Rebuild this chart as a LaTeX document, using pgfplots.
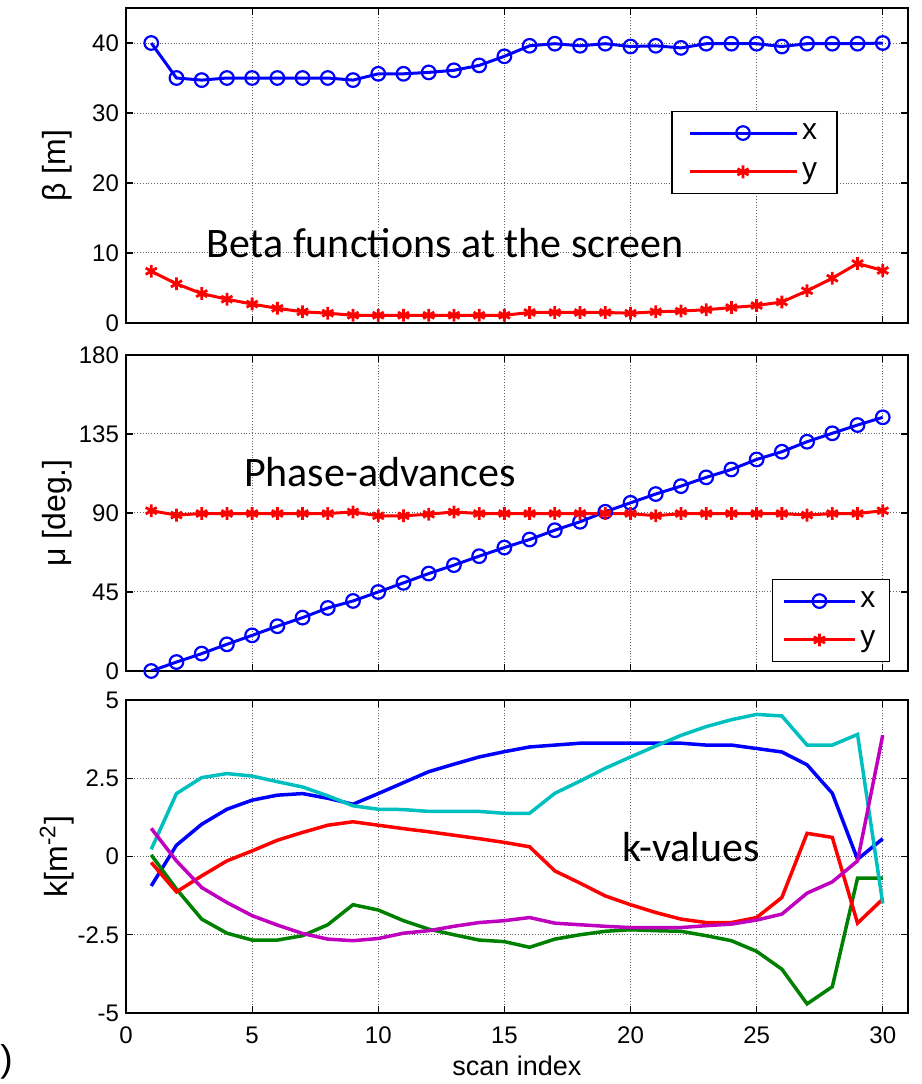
\documentclass[border=0pt]{standalone}
\usepackage{pgfplots}
\pgfplotsset{compat=1.18}
\usepackage{pgfplotstable}
\usepackage{fontspec}
\setmainfont{Liberation Sans}
\newfontfamily\cali{Carlito}
\definecolor{mblue}{RGB}{0,0,255}
\definecolor{mred}{RGB}{255,0,0}
\definecolor{mgreen}{RGB}{0,128,0}
\definecolor{mcyan}{RGB}{0,191,191}
\definecolor{mmag}{RGB}{191,0,191}

% beta functions at the screen
\pgfplotstableread{
i bx by
1 40.0 7.4
2 35.0 5.6
3 34.7 4.2
4 35.0 3.4
5 35.0 2.7
6 35.0 2.1
7 35.0 1.6
8 35.0 1.4
9 34.7 1.1
10 35.6 1.1
11 35.6 1.1
12 35.8 1.1
13 36.1 1.1
14 36.8 1.1
15 38.1 1.1
16 39.6 1.5
17 39.9 1.5
18 39.6 1.5
19 39.9 1.5
20 39.5 1.4
21 39.6 1.6
22 39.3 1.7
23 39.9 1.9
24 39.9 2.2
25 39.9 2.5
26 39.5 3.0
27 39.9 4.6
28 39.9 6.4
29 39.9 8.5
30 40.0 7.5
}\betatab

% phase advances
\pgfplotstableread{
i mx my
1 0.0 91.3
2 5.1 88.8
3 9.9 89.7
4 15.2 89.7
5 20.3 89.7
6 25.5 89.7
7 30.4 89.7
8 35.9 89.7
9 39.9 90.6
10 45.0 88.4
11 50.2 88.4
12 55.5 89.3
13 60.3 90.6
14 65.4 89.7
15 70.3 89.7
16 74.9 89.7
17 80.2 89.7
18 85.0 89.7
19 90.7 89.7
20 95.8 89.7
21 100.8 88.4
22 105.3 89.7
23 110.3 89.7
24 114.8 89.7
25 120.5 89.7
26 124.9 89.7
27 130.6 88.8
28 135.4 89.7
29 140.1 89.7
30 144.5 91.3
}\mutab

% k-values
\pgfplotstableread{
i ka kb kc kd ke
1 -0.94 0.05 -0.19 0.23 0.90
2 0.36 -1.04 -1.13 2.01 -0.14
3 1.03 -2.00 -0.62 2.52 -0.99
4 1.51 -2.45 -0.14 2.65 -1.47
5 1.80 -2.67 0.18 2.57 -1.89
6 1.96 -2.67 0.52 2.39 -2.19
7 2.01 -2.53 0.77 2.22 -2.46
8 1.86 -2.18 1.00 1.94 -2.64
9 1.67 -1.54 1.11 1.62 -2.69
10 2.01 -1.71 1.00 1.51 -2.62
11 2.36 -2.05 0.89 1.50 -2.45
12 2.71 -2.32 0.79 1.44 -2.37
13 2.95 -2.50 0.68 1.44 -2.23
14 3.18 -2.67 0.57 1.44 -2.11
15 3.35 -2.72 0.45 1.38 -2.05
16 3.50 -2.90 0.31 1.38 -1.95
17 3.56 -2.64 -0.46 2.02 -2.13
18 3.62 -2.50 -0.85 2.41 -2.18
19 3.62 -2.39 -1.26 2.82 -2.23
20 3.62 -2.34 -1.54 3.18 -2.27
21 3.62 -2.37 -1.79 3.53 -2.27
22 3.62 -2.39 -2.00 3.87 -2.27
23 3.56 -2.53 -2.11 4.15 -2.21
24 3.56 -2.69 -2.11 4.37 -2.16
25 3.45 -3.03 -1.95 4.54 -2.03
26 3.34 -3.60 -1.31 4.49 -1.84
27 2.93 -4.71 0.74 3.56 -1.17
28 2.02 -4.16 0.61 3.56 -0.81
29 -0.09 -0.69 -2.13 3.90 -0.14
30 0.57 -0.69 -1.36 -1.50 3.88
}\ktab

\pgfplotsset{
  mat/.style={scale only axis, width=391pt,
    xmin=0, xmax=31, xtick={0,5,...,30},
    grid=major, major grid style={densely dotted, black!60, line width=0.5pt},
    tick align=inside, major tick length=3.5pt,
    axis line style={line width=0.75pt},
    every tick/.style={black, line width=0.6pt},
    tick label style={font=\fontsize{12}{14}\selectfont},
    xticklabel style={yshift=-3.5pt},
    every axis y label/.style={at={(axis description cs:-0.088,0.5)}, rotate=90,
      anchor=center, font=\fontsize{16}{18}\selectfont},
    legend cell align=left,
  },
  bx/.style={mblue, line width=1.5pt, mark=o, mark size=3.4pt,
    mark options={line width=1.1pt, solid}},
  by/.style={mred, line width=1.5pt, mark=asterisk, mark size=3.2pt,
    mark options={line width=1.4pt, solid}},
  kl/.style={line width=1.75pt},
}

\begin{document}
\begin{tikzpicture}
\useasboundingbox (0pt,0pt) rectangle (461pt,542pt);

\begin{axis}[mat, at={(63pt,380.5pt)}, anchor=south west, height=157.5pt,
  ymin=0, ymax=45, ytick={0,10,20,30,40}, yticklabels={0,10,20,30,40},
  xticklabels={}, ylabel={β [m]},
  legend style={at={(0.910,0.673)}, anchor=north east, draw=black, line width=0.6pt,
    font=\fontsize{15}{17}\selectfont, inner xsep=8pt, inner ysep=4pt, row sep=6pt},
  legend image code/.code={\draw[mark repeat=2,mark phase=2,#1]
    plot coordinates {(0pt,0pt) (26.75pt,0pt) (53.5pt,0pt)};}]
  \addplot[bx] table[x=i,y=bx] {\betatab};
  \addlegendentry{x}
  \addplot[by] table[x=i,y=by] {\betatab};
  \addlegendentry{y}
  \node[font=\cali\fontsize{21}{24}\selectfont, anchor=base, inner sep=0pt]
    at (axis cs:12.64,9.39) {Beta functions at the screen};
\end{axis}

\begin{axis}[mat, at={(63pt,206.5pt)}, anchor=south west, height=158pt,
  ymin=0, ymax=180, ytick={0,45,90,135,180}, yticklabels={0,45,90,135,180},
  xticklabels={}, ylabel={μ [deg.]},
  legend style={at={(0.977,0.291)}, anchor=north east, draw=black, line width=0.6pt,
    font=\fontsize{15}{17}\selectfont, inner xsep=5pt, inner ysep=4pt, row sep=6pt},
  legend image code/.code={\draw[mark repeat=2,mark phase=2,#1]
    plot coordinates {(0pt,0pt) (17.75pt,0pt) (35.5pt,0pt)};}]
  \addplot[bx] table[x=i,y=mx] {\mutab};
  \addlegendentry{x}
  \addplot[by] table[x=i,y=my] {\mutab};
  \addlegendentry{y}
  \node[font=\cali\fontsize{21}{24}\selectfont, anchor=base, inner sep=0pt]
    at (axis cs:10.07,105) {Phase-advances};
\end{axis}

\begin{axis}[mat, at={(63pt,35.5pt)}, anchor=south west, height=156.5pt,
  ymin=-5, ymax=5, ytick={-5,-2.5,0,2.5,5}, yticklabels={-5,-2.5,0,2.5,5},
  xticklabels={0,5,10,15,20,25,30},
  ylabel={k[m\textsuperscript{-2}]},
  xlabel={scan index},
  every axis x label/.style={at={(axis description cs:0.5,-0.17)}, anchor=center,
    font=\fontsize{13.5}{16}\selectfont}]
  \addplot[kl, mblue] table[x=i,y=ka] {\ktab};
  \addplot[kl, mgreen] table[x=i,y=kb] {\ktab};
  \addplot[kl, mred] table[x=i,y=kc] {\ktab};
  \addplot[kl, mcyan] table[x=i,y=kd] {\ktab};
  \addplot[kl, mmag] table[x=i,y=ke] {\ktab};
  \node[font=\cali\fontsize{21}{24}\selectfont, anchor=base, inner sep=0pt]
    at (axis cs:22.39,-0.17) {k-values};
\end{axis}

\node[font=\fontsize{18.6}{20}\selectfont, anchor=base west, inner sep=0pt]
  at (0pt,6pt) {)};
\end{tikzpicture}
\end{document}
